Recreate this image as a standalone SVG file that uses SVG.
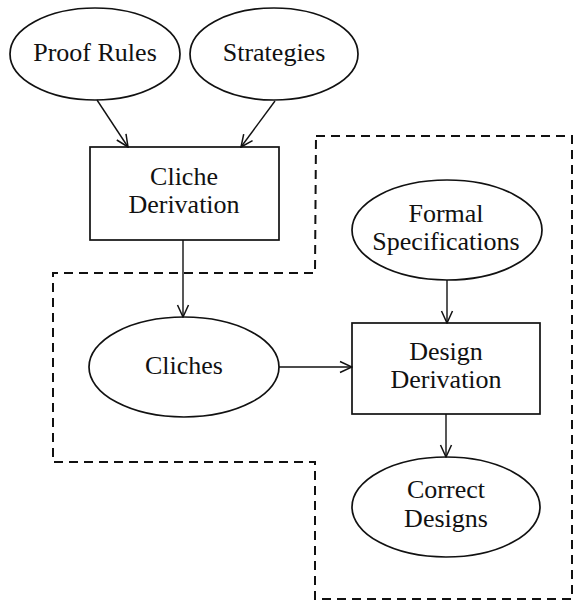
<svg xmlns="http://www.w3.org/2000/svg" width="575" height="602" viewBox="0 0 575 602">
<style>
.shape{fill:none;stroke:#111;stroke-width:1.7}
.lbl{font-family:"Liberation Serif","Times New Roman",serif;font-size:26px;fill:#111;text-anchor:middle}
.edge{fill:none;stroke:#111;stroke-width:1.4}
.region{fill:none;stroke:#111;stroke-width:2;stroke-dasharray:9,6}
</style>
<defs>
<marker id="arr" markerUnits="userSpaceOnUse" markerWidth="14" markerHeight="14" viewBox="0 0 14 14" refX="13" refY="7" orient="auto">
<path d="M1,1.5 L13,7 L1,12.5" fill="none" stroke="#111" stroke-width="1.5"/>
</marker>
</defs>
<rect width="575" height="602" fill="#fff"/>
<path class="region" d="M316,136 H572 V599 H315 V462 H53 V273 H315 Z"/>
<g id="proof-rules"><ellipse class="shape" cx="95" cy="54" rx="85" ry="46"/><text class="lbl" x="95" y="61">Proof Rules</text></g>
<g id="strategies"><ellipse class="shape" cx="274" cy="54" rx="84" ry="46"/><text class="lbl" x="274" y="61">Strategies</text></g>
<g id="cliche-derivation"><rect class="shape" x="90" y="147" width="189" height="93"/><text class="lbl" x="184" y="185">Cliche</text><text class="lbl" x="184" y="213">Derivation</text></g>
<g id="cliches"><ellipse class="shape" cx="184" cy="367" rx="95" ry="50"/><text class="lbl" x="184" y="374">Cliches</text></g>
<g id="formal-specifications"><ellipse class="shape" cx="447" cy="230" rx="95" ry="50"/><text class="lbl" x="446" y="222">Formal</text><text class="lbl" x="446" y="250">Specifications</text></g>
<g id="design-derivation"><rect class="shape" x="352" y="323" width="188" height="91"/><text class="lbl" x="446" y="360">Design</text><text class="lbl" x="446" y="388">Derivation</text></g>
<g id="correct-designs"><ellipse class="shape" cx="446" cy="507" rx="94" ry="50"/><text class="lbl" x="446" y="498">Correct</text><text class="lbl" x="446" y="527">Designs</text></g>
<g id="connectors">
<line class="edge" x1="97" y1="100" x2="128" y2="147" marker-end="url(#arr)"/>
<line class="edge" x1="275" y1="101" x2="241" y2="147" marker-end="url(#arr)"/>
<line class="edge" x1="183" y1="240" x2="183" y2="317" marker-end="url(#arr)"/>
<line class="edge" x1="279" y1="367" x2="352" y2="367" marker-end="url(#arr)"/>
<line class="edge" x1="447" y1="280" x2="447" y2="323" marker-end="url(#arr)"/>
<line class="edge" x1="446" y1="414" x2="446" y2="457" marker-end="url(#arr)"/>
</g>
</svg>
